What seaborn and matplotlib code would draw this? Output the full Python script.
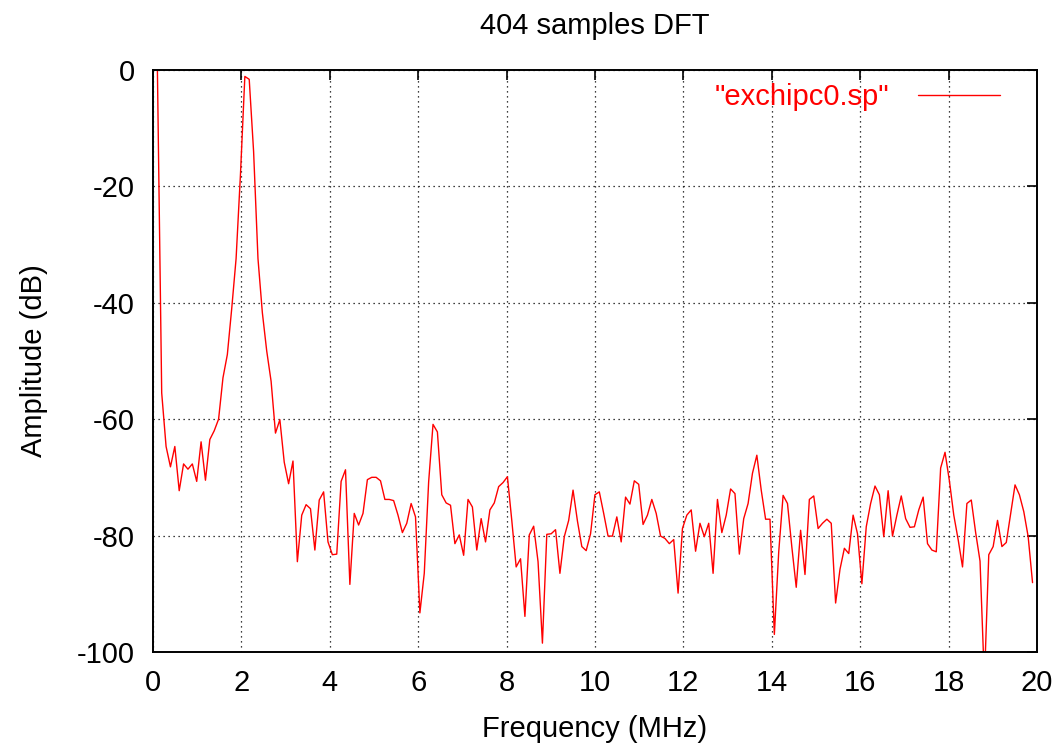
import matplotlib
matplotlib.use("Agg")
import matplotlib.pyplot as plt
import numpy as np
import pandas as pd
import seaborn as sns

N_SAMPLES = 404
SAMPLE_RATE_MHZ = 40.0

# DFT magnitude (dB) per bin
AMPLITUDE_DB = [
    3.0, 1.0, -55.5, -64.7, -68.2, -64.7, -72.3, -67.7, -68.6, -67.7,
    -70.7, -63.9, -70.5, -63.5, -62.0, -60.0, -52.9, -48.9, -41.0, -32.4,
    -17.9, -1.1, -1.6, -14.0, -32.4, -41.7, -48.3, -53.5, -62.4, -60.1,
    -67.4, -71.1, -67.2, -84.5, -76.5, -74.7, -75.4, -82.5, -73.9, -72.5,
    -81.1, -83.3, -83.2, -70.7, -68.7, -88.4, -76.2, -78.2, -76.2, -70.4,
    -70.0, -70.0, -70.6, -73.8, -73.8, -74.0, -76.5, -79.5, -77.9, -74.5,
    -76.8, -93.3, -86.5, -70.8, -60.9, -62.2, -73.0, -74.4, -74.8, -81.4,
    -79.9, -83.4, -73.8, -75.1, -82.5, -77.1, -81.1, -75.6, -74.4, -71.6,
    -70.9, -69.9, -77.4, -85.4, -84.0, -93.9, -79.9, -78.4, -84.5, -98.5,
    -79.8, -79.7, -79.0, -86.5, -80.2, -77.4, -72.2, -77.5, -81.9, -82.6,
    -79.7, -73.0, -72.5, -76.2, -80.1, -80.1, -76.8, -81.1, -73.4, -74.6,
    -70.6, -71.2, -78.1, -76.5, -73.8, -76.2, -80.1, -80.5, -81.4, -80.7,
    -89.9, -78.8, -76.5, -75.6, -82.7, -77.9, -80.2, -77.9, -86.5, -73.8,
    -79.5, -76.5, -72.0, -72.8, -83.2, -77.1, -74.5, -69.3, -66.2, -72.2,
    -77.2, -77.2, -97.0, -82.8, -73.1, -74.5, -82.0, -88.9, -79.1, -86.7,
    -73.8, -73.2, -78.8, -77.9, -77.2, -77.9, -91.6, -85.8, -82.2, -83.1,
    -76.5, -79.7, -88.3, -78.5, -74.5, -71.5, -73.0, -80.2, -72.3, -80.1,
    -76.5, -73.2, -77.1, -78.6, -78.5, -75.6, -73.4, -81.4, -82.5, -82.8,
    -68.4, -65.7, -70.6, -76.5, -80.7, -85.4, -74.5, -73.9, -79.5, -84.4,
    -105.0, -83.3, -81.9, -77.4, -81.9, -81.2, -76.2, -71.3, -73.0, -75.9,
    -80.2, -88.1,
]

X_TICKS = [0, 2, 4, 6, 8, 10, 12, 14, 16, 18, 20]
Y_TICKS = [0, -20, -40, -60, -80, -100]
SERIES_NAME = '"exchipc0.sp"'
FS = 21


def main():
    sns.set_style("white")
    plt.rcParams["font.family"] = ["Liberation Sans", "DejaVu Sans"]
    plt.rcParams["axes.unicode_minus"] = False
    plt.rcParams["text.color"] = "black"
    plt.rcParams["axes.labelcolor"] = "black"
    plt.rcParams["xtick.color"] = "black"
    plt.rcParams["ytick.color"] = "black"

    bin_mhz = SAMPLE_RATE_MHZ / N_SAMPLES
    df = pd.DataFrame({
        "freq": np.arange(len(AMPLITUDE_DB)) * bin_mhz,
        "amp": AMPLITUDE_DB,
    })

    fig = plt.figure(figsize=(10.57, 7.45), dpi=100)
    ax = fig.add_axes([0.1447, 0.125, 0.8363, 0.781])

    sns.lineplot(data=df, x="freq", y="amp", ax=ax, color="red", linewidth=1.0,
                 estimator=None, sort=False, label=SERIES_NAME)

    ax.set_xlim(0, 20)
    ax.set_ylim(-100, 0)
    ax.set_xticks(X_TICKS)
    ax.set_yticks(Y_TICKS)
    ax.tick_params(direction="in", length=7, width=1.2, top=True, right=True,
                   labelsize=FS)
    ax.tick_params(axis="x", pad=12)
    ax.tick_params(axis="y", pad=13)
    for s in ax.spines.values():
        s.set_linewidth(1.4)
        s.set_color("black")
    ax.grid(True, color="black", linestyle=(0, (1, 3)), linewidth=0.9)

    ax.set_xlabel("Frequency (MHz)", fontsize=FS, labelpad=13)
    ax.set_ylabel("Amplitude (dB)", fontsize=FS, labelpad=21)
    ax.set_title("404 samples DFT", fontsize=FS, pad=26)

    ax.legend(loc="upper right", frameon=False, markerfirst=False,
              fontsize=FS, handlelength=2.8, handletextpad=1.0,
              labelcolor="red", borderpad=0, borderaxespad=0,
              bbox_to_anchor=(0.958, 0.978))

    fig.savefig("out.png", dpi=100)
    plt.close(fig)


if __name__ == "__main__":
    main()
